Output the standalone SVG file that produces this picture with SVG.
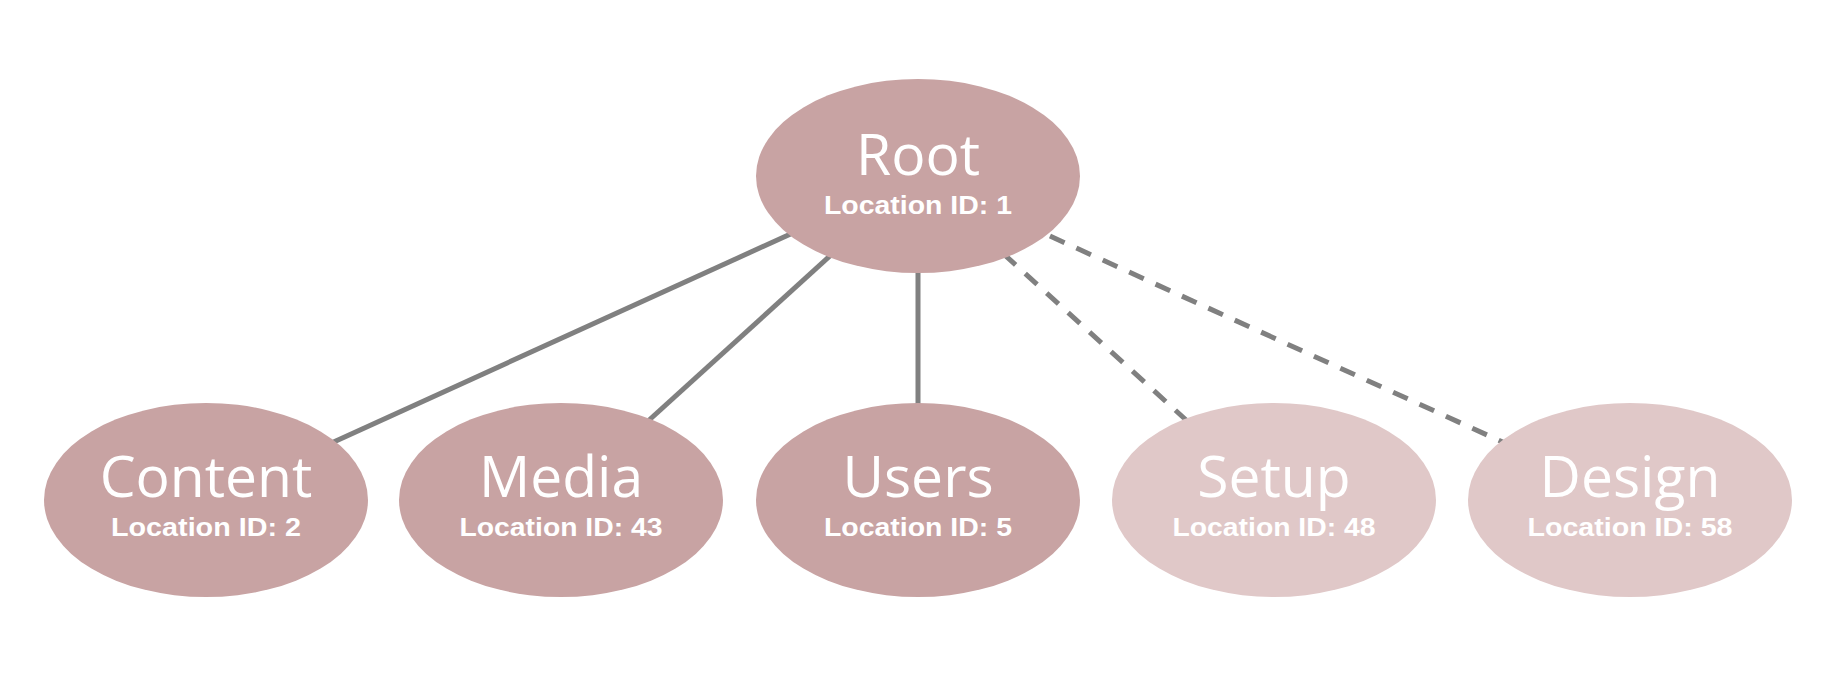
<svg xmlns="http://www.w3.org/2000/svg" width="1844" height="698" viewBox="0 0 1844 698">
<style>
.edge{stroke:#808080;stroke-width:5;fill:none}
.dash{stroke-dasharray:16 13}
.dark{fill:#c8a3a3}
.light{fill:#e0c8c8}
.t{font-family:"Open Sans","Noto Sans","Liberation Sans",sans-serif;font-weight:400;font-size:57px;fill:#fff;text-anchor:middle}
.s{font-family:"Liberation Sans",Arial,sans-serif;font-weight:bold;font-size:25px;fill:#fff;text-anchor:middle}
</style>
<rect width="1844" height="698" fill="#fff"/>
<g id="connectors">
<line class="edge" x1="918" y1="176" x2="206" y2="500"/>
<line class="edge" x1="918" y1="176" x2="561" y2="500"/>
<line class="edge" x1="918" y1="176" x2="918" y2="500"/>
<line class="edge dash" x1="918" y1="176" x2="1274" y2="500"/>
<line class="edge dash" x1="918" y1="176" x2="1630" y2="500"/>
</g>
<g id="root">
<ellipse class="dark" cx="918" cy="176" rx="162" ry="97"/>
<text class="t" x="918" y="175">Root</text>
<text class="s" x="918" y="214" textLength="188" lengthAdjust="spacingAndGlyphs">Location ID: 1</text>
</g>
<g id="content">
<ellipse class="dark" cx="206" cy="500" rx="162" ry="97"/>
<text class="t" x="206" y="497">Content</text>
<text class="s" x="206" y="536" textLength="190" lengthAdjust="spacingAndGlyphs">Location ID: 2</text>
</g>
<g id="media">
<ellipse class="dark" cx="561" cy="500" rx="162" ry="97"/>
<text class="t" x="561" y="497">Media</text>
<text class="s" x="561" y="536" textLength="203" lengthAdjust="spacingAndGlyphs">Location ID: 43</text>
</g>
<g id="users">
<ellipse class="dark" cx="918" cy="500" rx="162" ry="97"/>
<text class="t" x="918" y="497">Users</text>
<text class="s" x="918" y="536" textLength="188" lengthAdjust="spacingAndGlyphs">Location ID: 5</text>
</g>
<g id="setup">
<ellipse class="light" cx="1274" cy="500" rx="162" ry="97"/>
<text class="t" x="1274" y="497">Setup</text>
<text class="s" x="1274" y="536" textLength="203" lengthAdjust="spacingAndGlyphs">Location ID: 48</text>
</g>
<g id="design">
<ellipse class="light" cx="1630" cy="500" rx="162" ry="97"/>
<text class="t" x="1630" y="497">Design</text>
<text class="s" x="1630" y="536" textLength="205" lengthAdjust="spacingAndGlyphs">Location ID: 58</text>
</g>
</svg>
